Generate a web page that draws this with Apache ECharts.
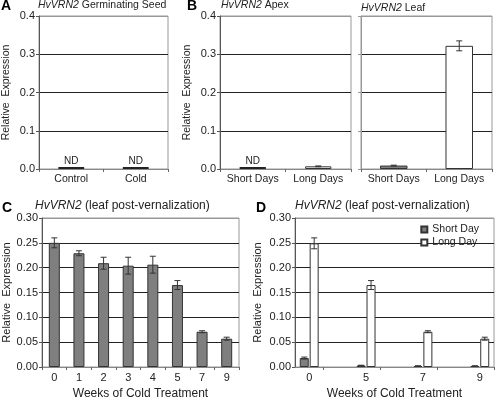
<!DOCTYPE html>
<html><head><meta charset="utf-8">
<script src="https://cdn.jsdelivr.net/npm/echarts@6/dist/echarts.min.js"></script>
<style>html,body{margin:0;padding:0;background:#fff}#c{width:495px;height:401px}</style>
</head><body><div id="c"></div>
<script>
// ---- data ----
const catsA = ['Control', 'Cold'];
const valsA = [0, 0];               // ND
const catsB = ['Short Days', 'Long Days'];
const apexVals = [0, 0.007];        // short = ND
const apexErr = [0, 0.001];
const leafVals = [0.009, 0.322];
const leafErr = [0.001, 0.013];
const catsC = ['0', '1', '2', '3', '4', '5', '7', '9'];
const valsC = [0.250, 0.229, 0.209, 0.204, 0.206, 0.165, 0.071, 0.057];
const errC = [0.010, 0.005, 0.012, 0.017, 0.017, 0.009, 0.002, 0.003];
const catsD = ['0', '5', '7', '9'];
const shortD = [0.018, 0.003, 0.002, 0.002];
const shortDErr = [0.002, 0.0006, 0.0005, 0.0005];
const longD = [0.249, 0.165, 0.071, 0.057];
const longDErr = [0.011, 0.009, 0.002, 0.003];
const ticksAB = [0, 0.1, 0.2, 0.3, 0.4];
const ticksCD = [0, 0.05, 0.10, 0.15, 0.20, 0.25, 0.30];

// ---- helpers ----
const FONT = 'Liberation Sans, Arial, sans-serif';
const TXT = '#222';
const GRID_DARK = '#222', GRID_GREY = '#999';
const GREY_BAR = '#7f7f7f';

function splitColors(n) { const a = []; for (let i = 0; i < n - 1; i++) a.push(GRID_DARK); a.push(GRID_GREY); return a; }

function yAxisCfg(gi, ticks, decimals, showLabels, name, nameGap, axisColor, fs, nfs) {
  return {
    type: 'value', gridIndex: gi, min: ticks[0], max: ticks[ticks.length - 1],
    interval: ticks[1] - ticks[0],
    name: name, nameLocation: 'middle', nameGap: nameGap,
    nameTextStyle: { fontFamily: FONT, fontSize: nfs, color: TXT },
    axisLine: { show: true, lineStyle: { color: axisColor, width: 1 } },
    axisTick: { show: true, length: 3, lineStyle: { color: axisColor } },
    axisLabel: { show: showLabels, fontFamily: FONT, fontSize: fs, color: TXT, margin: 4,
      formatter: v => v.toFixed(decimals) },
    splitLine: { show: true, lineStyle: { color: splitColors(ticks.length), width: 1 } }
  };
}
function xAxisCfg(gi, cats, fs, extra) {
  return Object.assign({
    type: 'category', gridIndex: gi, data: cats,
    axisLine: { show: true, lineStyle: { color: '#888' } },
    axisTick: { show: true, length: 3, lineStyle: { color: '#666' } },
    axisLabel: { fontFamily: FONT, fontSize: fs, color: TXT, margin: 5, interval: 0 },
    splitLine: { show: false }
  }, extra || {});
}
function errRender(offset) {
  return function (params, api) {
    const x = api.value(0), v = api.value(1), e = api.value(2);
    const hi = api.coord([x, v + e]), lo = api.coord([x, v - e]);
    const cx = hi[0] + offset, cap = 3;
    const st = { stroke: '#333', lineWidth: 1 };
    return { type: 'group', children: [
      { type: 'line', shape: { x1: cx, y1: hi[1], x2: cx, y2: lo[1] }, style: st },
      { type: 'line', shape: { x1: cx - cap, y1: hi[1], x2: cx + cap, y2: hi[1] }, style: st },
      { type: 'line', shape: { x1: cx - cap, y1: lo[1], x2: cx + cap, y2: lo[1] }, style: st }
    ] };
  };
}
function errSeries(xi, yi, idxs, vals, errs, offset) {
  return { type: 'custom', xAxisIndex: xi, yAxisIndex: yi, z: 5,
    renderItem: errRender(offset || 0), encode: { x: 0, y: 1 },
    data: vals.map((v, i) => [idxs[i], v, errs[i]]) };
}
const ndLabel = { show: true, position: 'top', distance: 1, formatter: 'ND', fontFamily: FONT, fontSize: 10, color: TXT };

// D axis: each real category followed by an empty half-slot
const catsD7 = [];
catsD.forEach((c, i) => { catsD7.push(c); if (i < catsD.length - 1) catsD7.push(''); });
const dIdx = catsD.map((c, i) => i * 2);
function spreadD(arr) { const out = catsD7.map(() => null); arr.forEach((v, i) => out[i * 2] = v); return out; }

const BW_D = 9, GAP_D = 0.1;
const offD = BW_D * (1 + GAP_D) / 2;

const chart = echarts.init(document.getElementById('c'), null, { renderer: 'canvas' });
function ttl(text, left, top, fs) {
  return { text: text, left: left, top: top, padding: 0,
    textStyle: { fontFamily: FONT, fontSize: fs, fontWeight: 'normal', color: TXT,
      rich: { i: { fontStyle: 'italic', fontFamily: FONT, fontSize: fs, color: TXT } } } };
}
function letter(t, left, top) {
  return { text: t, left: left, top: top, padding: 0,
    textStyle: { fontFamily: FONT, fontSize: 14, fontWeight: 'bold', color: '#000' } };
}

chart.setOption({
  backgroundColor: '#fff',
  animation: false,
  title: [
    letter('A', 1, -1), ttl('{i|HvVRN2} Germinating Seed', 38, 0, 10.5),
    letter('B', 187, -1), ttl('{i|HvVRN2} Apex', 221, 0, 10.5),
    ttl('{i|HvVRN2} Leaf', 361, 3, 10.5),
    letter('C', 2, 201), ttl('{i|HvVRN2} (leaf post-vernalization)', 35, 200, 12),
    letter('D', 256, 201), ttl('{i|HvVRN2} (leaf post-vernalization)', 295, 200, 12)
  ],
  legend: {
    right: 11, top: 219, orient: 'vertical', itemWidth: 6, itemHeight: 6, itemGap: 2,
    icon: 'rect', textStyle: { fontFamily: FONT, fontSize: 10.5, color: TXT },
    data: ['Short Day', 'Long Day']
  },
  grid: [
    { left: 38, top: 16, width: 130, height: 153, show: true, borderColor: GRID_GREY, borderWidth: 1 },
    { left: 220, top: 16, width: 131, height: 153, show: true, borderColor: GRID_GREY, borderWidth: 1 },
    { left: 361, top: 16, width: 131, height: 153, show: true, borderColor: GRID_GREY, borderWidth: 1 },
    { left: 39, top: 218, width: 200, height: 154, show: true, borderColor: GRID_GREY, borderWidth: 1 },
    { left: 295, top: 218, width: 199, height: 154, show: true, borderColor: GRID_GREY, borderWidth: 1 }
  ],
  xAxis: [
    xAxisCfg(0, catsA, 10.5),
    xAxisCfg(1, catsB, 10.5),
    xAxisCfg(2, catsB, 10.5),
    xAxisCfg(3, catsC, 11, { name: 'Weeks of Cold Treatment', nameLocation: 'middle', nameGap: 21,
      nameTextStyle: { fontFamily: FONT, fontSize: 12, color: TXT } }),
    xAxisCfg(4, catsD7, 11, { name: 'Weeks of Cold Treatment', nameLocation: 'middle', nameGap: 21,
      nameTextStyle: { fontFamily: FONT, fontSize: 12, color: TXT },
      axisTick: { show: true, length: 3, lineStyle: { color: '#666' }, interval: (i) => i % 2 === 1 } })
  ],
  yAxis: [
    yAxisCfg(0, ticksAB, 1, true, 'Relative  Expression', 27, '#555', 11, 10.5),
    yAxisCfg(1, ticksAB, 1, true, 'Relative  Expression', 27, '#555', 11, 10.5),
    yAxisCfg(2, ticksAB, 1, false, '', 0, '#999', 11, 10.5),
    yAxisCfg(3, ticksCD, 2, true, 'Relative  Expression', 30, '#555', 11, 11),
    yAxisCfg(4, ticksCD, 2, true, 'Relative  Expression', 32, '#555', 11, 11)
  ],
  series: [
    { type: 'bar', xAxisIndex: 0, yAxisIndex: 0, barWidth: '40%', barMinHeight: 2,
      itemStyle: { color: '#222' }, label: ndLabel, data: valsA },
    { type: 'bar', xAxisIndex: 1, yAxisIndex: 1, barWidth: '40%', barMinHeight: 2,
      data: apexVals.map((v, i) => i === 0
        ? { value: v, itemStyle: { color: '#222' }, label: ndLabel }
        : { value: v, itemStyle: { color: '#fff', borderColor: '#333', borderWidth: 1 } }) },
    errSeries(1, 1, [1], [apexVals[1]], [apexErr[1]]),
    { type: 'bar', xAxisIndex: 2, yAxisIndex: 2, barWidth: '42%',
      data: leafVals.map((v, i) => ({ value: v, itemStyle: i === 0
        ? { color: GREY_BAR, borderColor: '#333', borderWidth: 1 }
        : { color: '#fff', borderColor: '#333', borderWidth: 1 } })) },
    errSeries(2, 2, [0, 1], leafVals, leafErr),
    { type: 'bar', xAxisIndex: 3, yAxisIndex: 3, barWidth: 11,
      itemStyle: { color: GREY_BAR, borderColor: '#333', borderWidth: 1 }, data: valsC },
    errSeries(3, 3, catsC.map((c, i) => i), valsC, errC),
    { name: 'Short Day', type: 'bar', xAxisIndex: 4, yAxisIndex: 4, barWidth: BW_D, barGap: (GAP_D * 100) + '%',
      itemStyle: { color: GREY_BAR, borderColor: '#333', borderWidth: 1 }, data: spreadD(shortD) },
    { name: 'Long Day', type: 'bar', xAxisIndex: 4, yAxisIndex: 4, barWidth: BW_D, barGap: (GAP_D * 100) + '%',
      itemStyle: { color: '#fff', borderColor: '#333', borderWidth: 1 }, data: spreadD(longD) },
    errSeries(4, 4, dIdx, shortD, shortDErr, -offD),
    errSeries(4, 4, dIdx, longD, longDErr, offD)
  ]
});
</script></body></html>
